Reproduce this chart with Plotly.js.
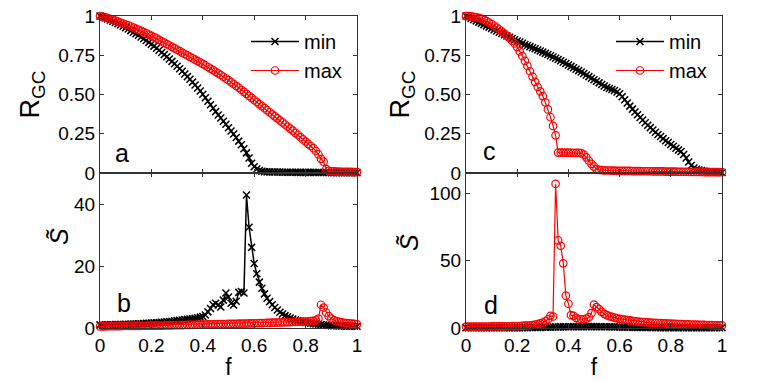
<!DOCTYPE html>
<html>
<head>
<meta charset="utf-8">
<script src="https://cdn.plot.ly/plotly-3.0.1.min.js"></script>
<style>
	html, body { margin: 0; padding: 0; background: white; }
	#chart { width: 763px; height: 381px; }
</style>
</head>
<body>
<div id="chart"></div>
<script>
// fraction of removed nodes, same grid for every curve
const f = [
	0.00, 0.01, 0.02, 0.03, 0.04, 0.05, 0.06, 0.07, 0.08, 0.09,
	0.10, 0.11, 0.12, 0.13, 0.14, 0.15, 0.16, 0.17, 0.18, 0.19,
	0.20, 0.21, 0.22, 0.23, 0.24, 0.25, 0.26, 0.27, 0.28, 0.29,
	0.30, 0.31, 0.32, 0.33, 0.34, 0.35, 0.36, 0.37, 0.38, 0.39,
	0.40, 0.41, 0.42, 0.43, 0.44, 0.45, 0.46, 0.47, 0.48, 0.49,
	0.50, 0.51, 0.52, 0.53, 0.54, 0.55, 0.56, 0.57, 0.58, 0.59,
	0.60, 0.61, 0.62, 0.63, 0.64, 0.65, 0.66, 0.67, 0.68, 0.69,
	0.70, 0.71, 0.72, 0.73, 0.74, 0.75, 0.76, 0.77, 0.78, 0.79,
	0.80, 0.81, 0.82, 0.83, 0.84, 0.85, 0.86, 0.87, 0.88, 0.89,
	0.90, 0.91, 0.92, 0.93, 0.94, 0.95, 0.96, 0.97, 0.98, 0.99,
	1.00
]

// panel a : R_GC, left network
const aMin = [
	1.000, 0.994, 0.988, 0.981, 0.974, 0.967, 0.959, 0.951, 0.943, 0.935,
	0.926, 0.917, 0.907, 0.897, 0.887, 0.877, 0.866, 0.855, 0.844, 0.832,
	0.820, 0.808, 0.795, 0.782, 0.768, 0.754, 0.740, 0.726, 0.711, 0.696,
	0.680, 0.664, 0.648, 0.631, 0.614, 0.597, 0.579, 0.561, 0.542, 0.522,
	0.501, 0.479, 0.457, 0.435, 0.413, 0.391, 0.370, 0.350, 0.330, 0.310,
	0.288, 0.268, 0.248, 0.226, 0.203, 0.180, 0.155, 0.128, 0.095, 0.062,
	0.040, 0.025, 0.016, 0.011, 0.008, 0.007, 0.007, 0.006, 0.006, 0.006,
	0.006, 0.005, 0.005, 0.005, 0.005, 0.005, 0.005, 0.004, 0.004, 0.004,
	0.004, 0.004, 0.004, 0.004, 0.003, 0.003, 0.003, 0.003, 0.003, 0.003,
	0.002, 0.002, 0.002, 0.002, 0.002, 0.002, 0.001, 0.001, 0.001, 0.001,
	0.001
]
const aMax = [
	1.000, 0.996, 0.991, 0.986, 0.981, 0.976, 0.970, 0.964, 0.958, 0.952,
	0.946, 0.940, 0.933, 0.926, 0.919, 0.912, 0.905, 0.897, 0.889, 0.881,
	0.873, 0.865, 0.857, 0.848, 0.839, 0.830, 0.821, 0.812, 0.803, 0.794,
	0.785, 0.776, 0.767, 0.758, 0.749, 0.740, 0.731, 0.722, 0.713, 0.704,
	0.695, 0.685, 0.675, 0.665, 0.655, 0.645, 0.635, 0.624, 0.613, 0.602,
	0.591, 0.579, 0.567, 0.555, 0.543, 0.530, 0.517, 0.504, 0.491, 0.478,
	0.465, 0.452, 0.439, 0.426, 0.413, 0.400, 0.387, 0.374, 0.361, 0.348,
	0.335, 0.322, 0.309, 0.296, 0.283, 0.270, 0.256, 0.242, 0.228, 0.214,
	0.200, 0.186, 0.172, 0.158, 0.140, 0.118, 0.090, 0.072, 0.025, 0.014,
	0.011, 0.010, 0.009, 0.009, 0.008, 0.008, 0.007, 0.007, 0.007, 0.006,
	0.006
]

// panel b : S~, left network
const bMin = [
	1.00, 1.00, 1.00, 1.00, 1.05, 1.05, 1.10, 1.10, 1.15, 1.15,
	1.20, 1.20, 1.25, 1.30, 1.30, 1.35, 1.40, 1.45, 1.50, 1.55,
	1.60, 1.65, 1.70, 1.80, 1.85, 1.90, 2.00, 2.10, 2.20, 2.30,
	2.40, 2.50, 2.60, 2.70, 2.80, 2.90, 3.00, 3.10, 3.30, 3.50,
	3.70, 4.20, 5.20, 6.30, 7.50, 8.00, 7.40, 6.80, 9.00, 11.3,
	10.0, 8.00, 7.40, 8.60, 11.5, 11.8, 11.3, 42.9, 32.5, 26.0,
	20.8, 17.5, 14.8, 12.8, 11.0, 9.60, 8.50, 7.50, 6.60, 5.80,
	5.10, 4.50, 4.00, 3.60, 3.20, 2.90, 2.60, 2.40, 2.20, 2.00,
	1.80, 1.70, 1.55, 1.40, 1.30, 1.20, 1.10, 1.00, 0.90, 0.80,
	0.75, 0.72, 0.70, 0.67, 0.65, 0.62, 0.60, 0.58, 0.57, 0.56,
	0.55
]
const bMax = [
	0.50, 0.52, 0.54, 0.56, 0.58, 0.60, 0.61, 0.62, 0.63, 0.64,
	0.65, 0.66, 0.67, 0.68, 0.69, 0.70, 0.71, 0.72, 0.73, 0.74,
	0.75, 0.76, 0.77, 0.78, 0.79, 0.80, 0.82, 0.84, 0.86, 0.88,
	0.90, 0.92, 0.94, 0.96, 0.98, 1.00, 1.02, 1.04, 1.06, 1.08,
	1.10, 1.12, 1.14, 1.16, 1.18, 1.20, 1.22, 1.24, 1.26, 1.28,
	1.30, 1.32, 1.34, 1.36, 1.38, 1.40, 1.42, 1.44, 1.46, 1.48,
	1.50, 1.53, 1.56, 1.59, 1.62, 1.65, 1.68, 1.71, 1.74, 1.77,
	1.80, 1.83, 1.86, 1.89, 1.92, 1.95, 1.98, 2.01, 2.04, 2.07,
	2.10, 2.15, 2.20, 2.30, 2.50, 3.00, 7.50, 6.60, 5.00, 3.80,
	3.00, 2.50, 2.20, 2.00, 1.80, 1.70, 1.60, 1.50, 1.40, 1.30,
	1.20
]

// panel c : R_GC, right network
const cMin = [
	1.000, 0.993, 0.985, 0.977, 0.969, 0.961, 0.953, 0.945, 0.937, 0.929,
	0.921, 0.913, 0.905, 0.897, 0.889, 0.881, 0.873, 0.865, 0.857, 0.849,
	0.841, 0.834, 0.826, 0.819, 0.812, 0.805, 0.798, 0.791, 0.784, 0.777,
	0.770, 0.762, 0.755, 0.747, 0.739, 0.731, 0.723, 0.715, 0.706, 0.697,
	0.688, 0.679, 0.670, 0.661, 0.652, 0.643, 0.634, 0.624, 0.614, 0.604,
	0.594, 0.584, 0.574, 0.564, 0.554, 0.545, 0.538, 0.532, 0.525, 0.516,
	0.505, 0.486, 0.466, 0.446, 0.426, 0.407, 0.389, 0.371, 0.354, 0.337,
	0.320, 0.304, 0.289, 0.274, 0.259, 0.245, 0.232, 0.219, 0.206, 0.194,
	0.182, 0.170, 0.158, 0.147, 0.137, 0.118, 0.095, 0.070, 0.048, 0.032,
	0.024, 0.019, 0.015, 0.012, 0.010, 0.008, 0.007, 0.006, 0.005, 0.004,
	0.003
]
const cMax = [
	1.000, 0.999, 0.997, 0.995, 0.992, 0.988, 0.982, 0.975, 0.967, 0.958,
	0.948, 0.938, 0.926, 0.914, 0.901, 0.888, 0.874, 0.860, 0.843, 0.825,
	0.802, 0.775, 0.745, 0.714, 0.682, 0.648, 0.614, 0.580, 0.548, 0.520,
	0.490, 0.450, 0.405, 0.355, 0.300, 0.240, 0.130, 0.130, 0.130, 0.130,
	0.130, 0.129, 0.129, 0.128, 0.128, 0.127, 0.117, 0.100, 0.078, 0.058,
	0.040, 0.025, 0.020, 0.018, 0.017, 0.016, 0.016, 0.015, 0.015, 0.014,
	0.014, 0.014, 0.013, 0.013, 0.013, 0.012, 0.012, 0.012, 0.012, 0.011,
	0.011, 0.011, 0.011, 0.010, 0.010, 0.010, 0.010, 0.010, 0.009, 0.009,
	0.009, 0.009, 0.009, 0.008, 0.008, 0.008, 0.008, 0.008, 0.007, 0.007,
	0.007, 0.007, 0.007, 0.006, 0.006, 0.006, 0.006, 0.006, 0.005, 0.005,
	0.005
]

// panel d : S~, right network
const dMin = [
	0.20, 0.20, 0.20, 0.20, 0.20, 0.20, 0.20, 0.20, 0.20, 0.20,
	0.20, 0.20, 0.20, 0.20, 0.20, 0.20, 0.20, 0.20, 0.20, 0.20,
	0.22, 0.24, 0.26, 0.28, 0.30, 0.32, 0.35, 0.38, 0.42, 0.46,
	0.50, 0.55, 0.60, 0.65, 0.70, 0.75, 0.80, 0.82, 0.84, 0.86,
	0.88, 0.90, 0.92, 0.94, 0.96, 0.98, 1.00, 1.00, 1.00, 1.00,
	1.00, 0.98, 0.96, 0.94, 0.92, 0.90, 0.86, 0.82, 0.78, 0.74,
	0.70, 0.66, 0.62, 0.58, 0.54, 0.50, 0.47, 0.44, 0.41, 0.38,
	0.35, 0.33, 0.31, 0.29, 0.27, 0.25, 0.24, 0.23, 0.22, 0.21,
	0.20, 0.20, 0.20, 0.20, 0.20, 0.20, 0.20, 0.20, 0.20, 0.20,
	0.20, 0.20, 0.20, 0.20, 0.20, 0.20, 0.20, 0.20, 0.20, 0.20,
	0.20
]
const dMax = [
	1.00, 1.00, 1.00, 1.00, 1.02, 1.04, 1.06, 1.08, 1.10, 1.12,
	1.14, 1.16, 1.18, 1.20, 1.22, 1.25, 1.28, 1.31, 1.35, 1.40,
	1.45, 1.50, 1.60, 1.70, 1.85, 2.00, 2.20, 2.50, 2.90, 3.40,
	4.00, 5.00, 6.50, 9.00, 8.50, 107.0, 65.0, 61.0, 48.0, 24.0,
	18.0, 9.50, 9.00, 7.50, 6.50, 6.50, 6.50, 7.00, 8.00, 11.0,
	17.3, 15.5, 14.0, 12.0, 10.5, 9.50, 8.80, 8.20, 7.70, 7.20,
	6.80, 6.50, 6.20, 5.90, 5.60, 5.30, 5.00, 4.80, 4.60, 4.45,
	4.30, 4.15, 4.00, 3.90, 3.80, 3.70, 3.60, 3.50, 3.40, 3.30,
	3.20, 3.12, 3.04, 2.96, 2.88, 2.80, 2.73, 2.66, 2.59, 2.52,
	2.45, 2.39, 2.33, 2.27, 2.21, 2.15, 2.10, 2.05, 2.00, 1.95,
	1.90
]

const FONT = 'Liberation Sans, Arial, Helvetica, sans-serif'


function minTrace(y, xa, ya, legend, showlegend) {
	return {
		x: f, y: y, xaxis: xa, yaxis: ya,
		name: 'min', legend: legend, showlegend: showlegend,
		type: 'scatter', mode: 'lines+markers', cliponaxis: false,
		line: { color: 'black', width: 1.5 },
		marker: { symbol: 'x-thin', size: 7, color: 'black', line: { color: 'black', width: 1.5 } }
	}
}

function maxTrace(y, xa, ya, legend, showlegend) {
	return {
		x: f, y: y, xaxis: xa, yaxis: ya,
		name: 'max', legend: legend, showlegend: showlegend,
		type: 'scatter', mode: 'lines+markers', cliponaxis: false,
		line: { color: 'red', width: 1.2 },
		marker: { symbol: 'circle-open', size: 7.5, color: 'red', line: { color: 'red', width: 1.2 } }
	}
}

function axis(extra) {
	return Object.assign({
		showline: true, mirror: 'ticks', linecolor: '#333', linewidth: 1,
		ticks: 'inside', ticklen: 4, tickcolor: '#333', tickwidth: 1,
		showgrid: false, zeroline: false, fixedrange: true,
		tickfont: { family: FONT, size: 19, color: 'black' }
	}, extra)
}

// H| domains (paper coords, margins are 0)
const leftX = [100 / 763, 357 / 763]
const rightX = [466 / 763, 722 / 763]
const topY = [208 / 381, 365 / 381]
const botY = [53 / 381, 208 / 381]

const fTicks = [0, 0.2, 0.4, 0.6, 0.8, 1]
const rTicks = [0, 0.25, 0.5, 0.75, 1]
const rText = ['0', '0.25', '0.50', '0.75', '1']

const titleFont = { family: FONT, size: 23, color: 'black' }
const rFont = { family: FONT, size: 27, color: 'black' }

const data = [
	minTrace(aMin, 'x', 'y', 'legend', true),
	maxTrace(aMax, 'x', 'y', 'legend', true),
	minTrace(bMin, 'x2', 'y2', 'legend', false),
	maxTrace(bMax, 'x2', 'y2', 'legend', false),
	minTrace(cMin, 'x3', 'y3', 'legend2', true),
	maxTrace(cMax, 'x3', 'y3', 'legend2', true),
	minTrace(dMin, 'x4', 'y4', 'legend2', false),
	maxTrace(dMax, 'x4', 'y4', 'legend2', false)
]

function panelLabel(text, xa, ya, x, y) {
	return {
		text: text, xref: xa, yref: ya, x: x, y: y,
		showarrow: false, xanchor: 'center', yanchor: 'middle',
		font: { family: FONT, size: 25, color: 'black' }
	}
}

// the S~ label is put by hand, the axis title centres it too low
function sLabel(px, py) {
	return {
		text: '<i>S̃</i>', xref: 'paper', yref: 'paper', x: px / 763, y: 1 - py / 381,
		showarrow: false, xanchor: 'center', yanchor: 'middle', textangle: -90,
		font: { family: FONT, size: 25, color: 'black' }
	}
}

function legendBox(x) {
	return {
		x: x, xanchor: 'left', y: 1 - 22 / 381, yanchor: 'top',
		bgcolor: 'rgba(0,0,0,0)', borderwidth: 0,
		font: { family: FONT, size: 20, color: 'black' },
		itemwidth: 48, tracegroupgap: 0
	}
}

const layout = {
	width: 763, height: 381,
	margin: { l: 0, r: 0, t: 0, b: 0 },
	paper_bgcolor: 'white', plot_bgcolor: 'white',
	font: { family: FONT, color: 'black' },

	xaxis: axis({ domain: leftX, anchor: 'y', range: [0, 1], tickvals: fTicks, showticklabels: false }),
	yaxis: axis({ domain: topY, anchor: 'x', range: [0, 1], tickvals: rTicks, ticktext: rText, title: { text: 'R<sub>GC</sub>', font: rFont, standoff: 10 } }),
	xaxis2: axis({ domain: leftX, anchor: 'y2', range: [0, 1], tickvals: fTicks, title: { text: 'f', font: titleFont, standoff: 4 } }),
	yaxis2: axis({ domain: botY, anchor: 'x2', range: [0, 50], tickvals: [0, 20, 40] }),

	xaxis3: axis({ domain: rightX, anchor: 'y3', range: [0, 1], tickvals: fTicks, showticklabels: false }),
	yaxis3: axis({ domain: topY, anchor: 'x3', range: [0, 1], tickvals: rTicks, ticktext: rText, title: { text: 'R<sub>GC</sub>', font: rFont, standoff: 6 } }),
	xaxis4: axis({ domain: rightX, anchor: 'y4', range: [0, 1], tickvals: fTicks, title: { text: 'f', font: titleFont, standoff: 4 } }),
	yaxis4: axis({ domain: botY, anchor: 'x4', range: [0, 115], tickvals: [0, 50, 100] }),

	legend: legendBox(246 / 763),
	legend2: legendBox(611 / 763),

	annotations: [
		panelLabel('a', 'x', 'y', 0.085, 0.13),
		panelLabel('b', 'x2', 'y2', 0.094, 8),
		panelLabel('c', 'x3', 'y3', 0.092, 0.14),
		panelLabel('d', 'x4', 'y4', 0.098, 17),
		sLabel(59, 237),
		sLabel(409, 243)
	]
}

Plotly.newPlot('chart', data, layout, { displayModeBar: false, staticPlot: true })
</script>
</body>
</html>
